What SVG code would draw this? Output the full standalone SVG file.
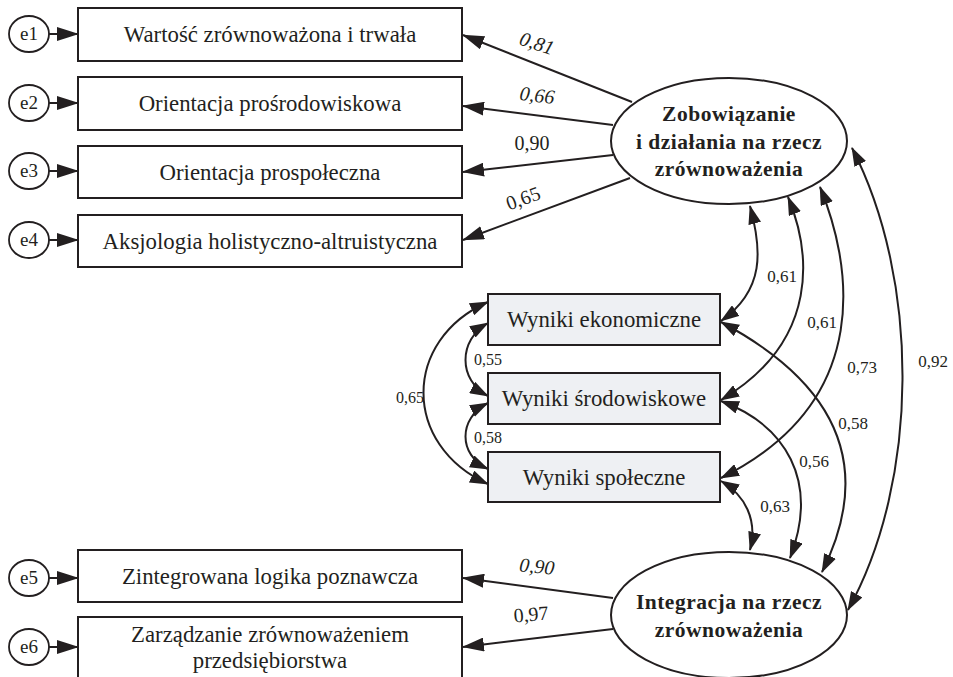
<svg xmlns="http://www.w3.org/2000/svg" width="953" height="677" viewBox="0 0 953 677" font-family="Liberation Serif, Times New Roman, serif">
<style>
.box{fill:#fff;stroke:#231f20;stroke-width:2}
.gbox{fill:#eef0f3;stroke:#231f20;stroke-width:2}
.err{fill:#fff;stroke:#231f20;stroke-width:1.8}
.lat{fill:#fff;stroke:#231f20;stroke-width:2}
text{fill:#231f20}
.t{font-size:22.8px;text-anchor:middle}
.e{font-size:19px;text-anchor:middle}
.b{font-size:21.5px;font-weight:bold;text-anchor:middle;letter-spacing:0.5px}
.n{font-size:17px;text-anchor:middle}
.ns{font-size:16px;text-anchor:start}
.l{font-size:20px;text-anchor:middle}
.i{font-style:italic}
.c{fill:none;stroke:#231f20;stroke-width:2}
.s1{marker-end:url(#ah)}
.s2{marker-start:url(#ah2);marker-end:url(#ah2)}
</style>
<defs>
<marker id="ah" viewBox="0 0 22 14" markerWidth="22" markerHeight="14" refX="21" refY="7" orient="auto-start-reverse" markerUnits="userSpaceOnUse">
<path d="M0,0 L22,7 L0,14 z" fill="#231f20"/>
</marker>
<marker id="ah2" viewBox="0 0 19 13" markerWidth="19" markerHeight="13" refX="18" refY="6.5" orient="auto-start-reverse" markerUnits="userSpaceOnUse">
<path d="M0,0 L19,6.5 L0,13 z" fill="#231f20"/>
</marker>
</defs>

<g id="connectors">
<line class="c s1" x1="49" y1="34" x2="78" y2="34"/>
<line class="c s1" x1="49" y1="103" x2="78" y2="103"/>
<line class="c s1" x1="49" y1="171" x2="78" y2="171"/>
<line class="c s1" x1="49" y1="240" x2="78" y2="240"/>
<line class="c s1" x1="49" y1="578" x2="78" y2="578"/>
<line class="c s1" x1="49" y1="647" x2="78" y2="647"/>

<line class="c s1" x1="632" y1="102" x2="463" y2="35"/>
<line class="c s1" x1="613" y1="125" x2="463" y2="106"/>
<line class="c s1" x1="613" y1="155" x2="463" y2="172"/>
<line class="c s1" x1="630" y1="178" x2="463" y2="240"/>
<line class="c s1" x1="613" y1="598" x2="463" y2="578"/>
<line class="c s1" x1="613" y1="629" x2="463" y2="647"/>

<path class="c s2" d="M750,206 C762,250 765,290 721,321"/>
<path class="c s2" d="M788,197 C810,250 822,340 721,400"/>
<path class="c s2" d="M820,187 C850,260 878,400 721,478"/>
<path class="c s2" d="M852,148 C920,280 920,480 848,610"/>
<path class="c s2" d="M721,322 C830,380 878,460 822,572"/>
<path class="c s2" d="M721,401 C785,425 820,480 790,558"/>
<path class="c s2" d="M721,481 C745,495 758,520 750,550"/>

<path class="c s2" d="M488,323 C458,340 458,380 488,396"/>
<path class="c s2" d="M488,403 C458,418 458,455 488,469"/>
<path class="c s2" d="M488,302 C402,340 402,445 488,484"/>

<text class="l i" x="537" y="50" transform="rotate(18 537 43)">0,81</text>
<text class="l i" x="537" y="102" transform="rotate(7 537 96)">0,66</text>
<text class="l" x="532" y="150">0,90</text>
<text class="l" x="523" y="205" transform="rotate(-20 523 198)">0,65</text>
<text class="l i" x="537" y="573" transform="rotate(6 537 566)">0,90</text>
<text class="l" x="531" y="621" transform="rotate(-5 531 614)">0,97</text>

<text class="n" x="782" y="282">0,61</text>
<text class="n" x="822" y="328">0,61</text>
<text class="n" x="862" y="373">0,73</text>
<text class="n" x="933" y="367">0,92</text>
<text class="n" x="853" y="429">0,58</text>
<text class="n" x="814" y="467">0,56</text>
<text class="n" x="775" y="512">0,63</text>
<text class="ns" x="474" y="365">0,55</text>
<text class="ns" x="474" y="443">0,58</text>
<text class="ns" x="396" y="403">0,65</text>
</g>

<g id="e1"><ellipse class="err" cx="29" cy="34" rx="20" ry="18"/><text class="e" x="29" y="40">e1</text></g>
<g id="e2"><ellipse class="err" cx="29" cy="103" rx="20" ry="18"/><text class="e" x="29" y="109">e2</text></g>
<g id="e3"><ellipse class="err" cx="29" cy="171" rx="20" ry="18"/><text class="e" x="29" y="177">e3</text></g>
<g id="e4"><ellipse class="err" cx="29" cy="240" rx="20" ry="18"/><text class="e" x="29" y="246">e4</text></g>
<g id="e5"><ellipse class="err" cx="29" cy="578" rx="20" ry="18"/><text class="e" x="29" y="584">e5</text></g>
<g id="e6"><ellipse class="err" cx="29" cy="647" rx="20" ry="18"/><text class="e" x="29" y="653">e6</text></g>

<g id="box1"><rect class="box" x="78" y="8" width="384" height="53"/><text class="t" x="270" y="42">Wartość zrównoważona i trwała</text></g>
<g id="box2"><rect class="box" x="78" y="77" width="384" height="53"/><text class="t" x="270" y="111">Orientacja  prośrodowiskowa</text></g>
<g id="box3"><rect class="box" x="78" y="146" width="384" height="52"/><text class="t" x="270" y="180">Orientacja prospołeczna</text></g>
<g id="box4"><rect class="box" x="78" y="215" width="384" height="52"/><text class="t" x="270" y="249">Aksjologia holistyczno-altruistyczna</text></g>
<g id="box5"><rect class="box" x="78" y="550" width="384" height="52"/><text class="t" x="270" y="584">Zintegrowana logika poznawcza</text></g>
<g id="box6"><rect class="box" x="78" y="617" width="384" height="80"/><text class="t" x="270" y="642">Zarządzanie zrównoważeniem</text><text class="t" x="270" y="668">przedsiębiorstwa</text></g>

<g id="wek"><rect class="gbox" x="488" y="294" width="232" height="51"/><text class="t" x="604" y="327">Wyniki ekonomiczne</text></g>
<g id="wsr"><rect class="gbox" x="488" y="373" width="232" height="51"/><text class="t" x="604" y="406">Wyniki środowiskowe</text></g>
<g id="wsp"><rect class="gbox" x="488" y="452" width="232" height="50"/><text class="t" x="604" y="485">Wyniki społeczne</text></g>

<g id="zob"><ellipse class="lat" cx="729" cy="141" rx="118" ry="63"/>
<text class="b" x="729" y="121">Zobowiązanie</text>
<text class="b" x="729" y="149">i działania na rzecz</text>
<text class="b" x="729" y="176">zrównoważenia</text></g>
<g id="int"><ellipse class="lat" cx="729" cy="615" rx="118" ry="63"/>
<text class="b" x="729" y="609">Integracja na rzecz</text>
<text class="b" x="729" y="637">zrównoważenia</text></g>
</svg>
